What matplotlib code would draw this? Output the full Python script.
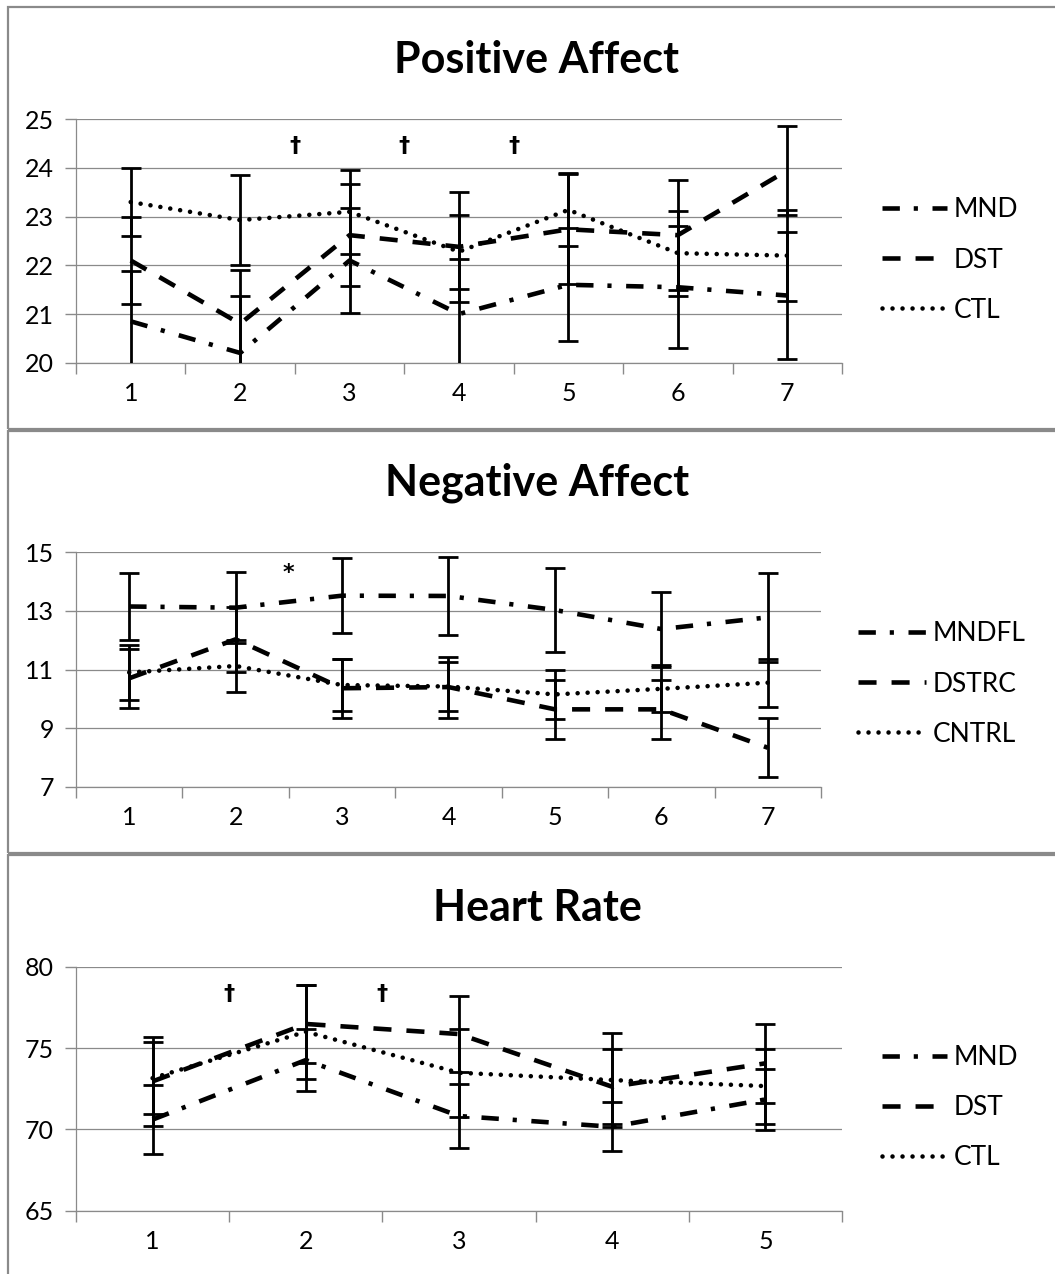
import numpy as np
import matplotlib
matplotlib.use("Agg")
import matplotlib.pyplot as plt
from matplotlib.patches import Rectangle

# ---------------------------------------------------------------- data
pa_x = [1, 2, 3, 4, 5, 6, 7]
pa_mnd = [20.85, 20.2, 22.1, 21.0, 21.6, 21.55, 21.38]
pa_mnd_err = [1.03, 1.17, 1.07, 1.13, 1.16, 1.25, 1.3]
pa_dst = [22.1, 20.8, 22.62, 22.38, 22.74, 22.62, 23.95]
pa_dst_err = [0.9, 1.1, 1.05, 1.13, 1.13, 1.13, 0.91]
pa_ctl = [23.3, 22.93, 23.1, 22.28, 23.14, 22.25, 22.2]
pa_ctl_err = [0.7, 0.92, 0.86, 0.76, 0.75, 0.87, 0.94]
pa_sig_x = [2.5, 3.5, 4.5]
pa_sig_y = [24.45, 24.45, 24.45]

na_x = [1, 2, 3, 4, 5, 6, 7]
na_mnd = [13.15, 13.11, 13.52, 13.51, 13.03, 12.38, 12.78]
na_mnd_err = [1.15, 1.21, 1.27, 1.33, 1.42, 1.28, 1.52]
na_dst = [10.7, 12.03, 10.36, 10.4, 9.64, 9.64, 8.33]
na_dst_err = [1.0, 1.1, 1.0, 1.04, 1.0, 1.0, 1.0]
na_ctl = [10.9, 11.12, 10.47, 10.42, 10.15, 10.34, 10.55]
na_ctl_err = [0.95, 0.9, 0.9, 0.85, 0.85, 0.8, 0.82]
na_sig_x = [2.5]
na_sig_y = [14.3]

hr_x = [1, 2, 3, 4, 5]
hr_mnd = [70.6, 74.26, 70.82, 70.16, 71.84]
hr_mnd_err = [2.1, 1.93, 1.97, 1.5, 1.9]
hr_dst = [72.95, 76.48, 75.86, 72.62, 74.06]
hr_dst_err = [2.75, 2.4, 2.36, 2.3, 2.42]
hr_ctl = [73.15, 76.0, 73.48, 73.03, 72.66]
hr_ctl_err = [2.2, 2.9, 2.69, 2.91, 2.3]
hr_sig_x = [1.5, 2.5]
hr_sig_y = [78.3, 78.3]

#------------------------------------------------------------------------------
W, H = 1055, 1274
plt.rcParams['font.family'] = ['Lato', 'DejaVu Sans']
plt.rcParams['lines.scale_dashes'] = False

fig = plt.figure(figsize=(W / 100, H / 100), dpi=100)

GRAY = '#8a8a8a'

def px_axes(l, t, r, b):
    return fig.add_axes([l / W, 1 - b / H, (r - l) / W, (b - t) / H])

def px(x, y):
    return (x / W, 1 - y / H)

# panel frames
for top, bot in [(7, 429), (431, 853), (855, 1290)]:
    fig.add_artist(Rectangle(px(8, bot), (1080 - 8) / W, (bot - top) / H,
                             transform=fig.transFigure, fill=False,
                             edgecolor=GRAY, lw=1.6))

LW = 3.3
styles = {
    'MND': dict(ls=(0, (12.5, 10.0, 3.0, 10.5)), dash_capstyle='butt', lw=LW),
    'DST': dict(ls=(0, (13.0, 10.8)), dash_capstyle='butt', lw=LW),
    'CTL': dict(ls=(0, (0.01, 7.2)), dash_capstyle='round', lw=LW),
}

def panel(box, title, title_y, x, series, ylim, yticks, sig, sig_txt,
          labels, leg_x, leg_y, handle_px):
    ax = px_axes(*box)
    n = len(x)
    keys = ['MND', 'DST', 'CTL']
    lines = []
    for k, (vals, err), lab in zip(keys, series, labels):
        ln, = ax.plot(x, vals, color='black', label=lab, zorder=3, **styles[k])
        lines.append(ln)
        ax.errorbar(x, vals, yerr=err, fmt='none', ecolor='black',
                    elinewidth=2.0, capsize=7, capthick=2.0, zorder=4)
    ax.set_xlim(0.5, n + 0.5)
    ax.set_ylim(*ylim)
    ax.set_yticks(yticks)
    ax.set_xticks(np.arange(0.5, n + 1, 1.0))
    ax.set_xticklabels([])
    ax.set_xticks(x, minor=True)
    ax.set_xticklabels([str(v) for v in x], minor=True)
    ax.tick_params(axis='x', which='minor', length=0, pad=14, labelsize=18)
    ax.tick_params(axis='x', which='major', length=8, width=1, color=GRAY, direction='out')
    ax.tick_params(axis='y', length=8, width=1, color=GRAY, labelsize=18, pad=8)
    ax.yaxis.grid(True, color=GRAY, lw=0.9)
    ax.set_axisbelow(True)
    for s in ['top', 'right']:
        ax.spines[s].set_visible(False)
    for s in ['left', 'bottom']:
        ax.spines[s].set_color(GRAY)
        ax.spines[s].set_linewidth(0.9)
    for sx, sy in zip(*sig):
        ax.text(sx, sy, sig_txt, ha='center', va='center', fontsize=16,
                fontweight='bold', family=['DejaVu Sans'])
    fig.text(537 / W, 1 - title_y / H, title, ha='center', va='center',
             fontsize=31, fontweight='bold')
    fs = 19
    ax.legend(handles=lines, loc='center left',
              bbox_to_anchor=px(leg_x, leg_y), bbox_transform=fig.transFigure,
              frameon=False, fontsize=fs, borderaxespad=0, borderpad=0,
              handlelength=handle_px / (fs * 100 / 72), handletextpad=0.25,
              labelspacing=0.95)
    return ax

panel((76, 119.3, 842, 362.7), 'Positive Affect', 60, pa_x,
      [(pa_mnd, pa_mnd_err), (pa_dst, pa_dst_err), (pa_ctl, pa_ctl_err)],
      (20, 25), [20, 21, 22, 23, 24, 25], (pa_sig_x, pa_sig_y), '\u2020',
      ['MND', 'DST', 'CTL'], 882, 260, 65)

panel((76, 552.3, 821, 786.7), 'Negative Affect', 483, na_x,
      [(na_mnd, na_mnd_err), (na_dst, na_dst_err), (na_ctl, na_ctl_err)],
      (7, 15), [7, 9, 11, 13, 15], (na_sig_x, na_sig_y), '*',
      ['MNDFL', 'DSTRC', 'CNTRL'], 858, 684, 68)

panel((76, 966.7, 842, 1210.7), 'Heart Rate', 908, hr_x,
      [(hr_mnd, hr_mnd_err), (hr_dst, hr_dst_err), (hr_ctl, hr_ctl_err)],
      (65, 80), [65, 70, 75, 80], (hr_sig_x, hr_sig_y), '\u2020',
      ['MND', 'DST', 'CTL'], 882, 1107.5, 65)

fig.savefig('out.png', dpi=100)
